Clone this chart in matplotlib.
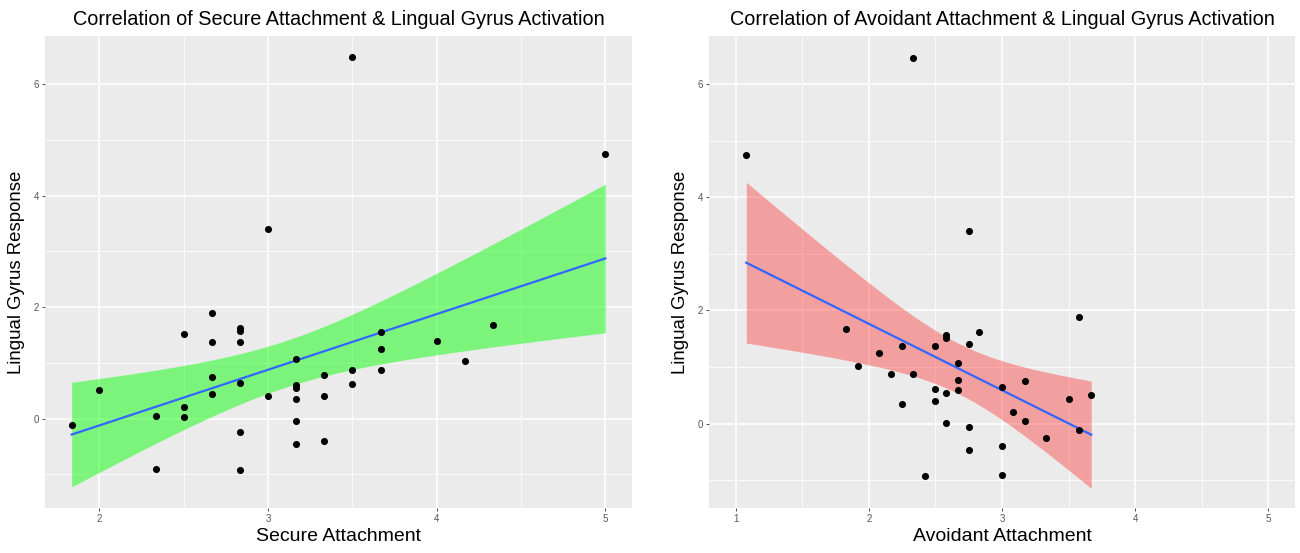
import numpy as np
import matplotlib
matplotlib.use("Agg")
import matplotlib.pyplot as plt

# Secure attachment panel
secure_x = [1.836, 2.0, 2.335, 2.335, 2.5, 2.5, 2.5, 2.667, 2.667, 2.667, 2.667,
            2.836, 2.836, 2.836, 2.836, 2.836, 2.836, 3.0, 3.0,
            3.168, 3.168, 3.168, 3.168, 3.168, 3.168, 3.335, 3.335, 3.335,
            3.5, 3.5, 3.5, 3.667, 3.667, 3.667, 4.0, 4.167, 4.333, 5.0]
secure_y = [-0.12, 0.51, 0.05, -0.91, 1.52, 0.21, 0.03, 1.89, 1.37, 0.75, 0.44,
            1.63, 1.57, 1.37, 0.64, -0.24, -0.92, 3.40, 0.41,
            1.07, 0.61, 0.55, 0.35, -0.04, -0.45, 0.78, 0.40, -0.40,
            6.48, 0.88, 0.62, 1.56, 1.24, 0.88, 1.40, 1.03, 1.68, 4.74]

# Avoidant attachment panel
avoid_x = [1.08, 1.83, 1.92, 2.08, 2.17, 2.25, 2.25, 2.33, 2.33, 2.42,
           2.5, 2.5, 2.5, 2.58, 2.58, 2.58, 2.58, 2.67, 2.67, 2.67,
           2.75, 2.75, 2.75, 2.75, 2.83, 3.0, 3.0, 3.0, 3.08, 3.17, 3.17,
           3.33, 3.5, 3.58, 3.58, 3.67]
avoid_y = [4.74, 1.68, 1.02, 1.24, 0.88, 1.38, 0.35, 6.47, 0.88, -0.92,
           1.38, 0.61, 0.40, 1.57, 1.52, 0.54, 0.02, 1.07, 0.77, 0.60,
           3.40, 1.40, -0.05, -0.46, 1.62, 0.64, -0.40, -0.91, 0.21, 0.75, 0.05,
           -0.25, 0.44, 1.88, -0.12, 0.50]

BG = "#EBEBEB"


def t_quantile(df, z=1.959964):
    # Cornish-Fisher approximation of the 97.5% t quantile
    return (z + (z**3 + z) / (4 * df)
            + (5 * z**5 + 16 * z**3 + 3 * z) / (96 * df**2)
            + (3 * z**7 + 19 * z**5 + 17 * z**3 - 15 * z) / (384 * df**3))


def lm_band(x, y, n_grid=80):
    x = np.asarray(x)
    y = np.asarray(y)
    n = len(x)
    b, a = np.polyfit(x, y, 1)
    resid = y - (a + b * x)
    s = np.sqrt(np.sum(resid**2) / (n - 2))
    xs = np.linspace(x.min(), x.max(), n_grid)
    fit = a + b * xs
    se = s * np.sqrt(1 / n + (xs - x.mean())**2 / np.sum((x - x.mean())**2))
    t = t_quantile(n - 2)
    return xs, fit, fit - t * se, fit + t * se


def panel(ax, x, y, fill, alpha, title, xlabel, xlim, ylim, xticks, xminor):
    ax.set_facecolor(BG)
    xs, fit, lo, hi = lm_band(x, y)
    ax.fill_between(xs, lo, hi, color=fill, alpha=alpha, linewidth=0, zorder=2)
    ax.plot(xs, fit, color="#3366FF", linewidth=1.6, zorder=3)
    ax.scatter(x, y, s=26, color="black", zorder=4, linewidths=0)
    ax.set_xlim(*xlim)
    ax.set_ylim(*ylim)
    ax.set_xticks(xticks)
    ax.set_xticks(xminor, minor=True)
    ax.set_yticks([0, 2, 4, 6])
    ax.set_yticks([-1, 1, 3, 5], minor=True)
    ax.grid(which="major", color="white", linewidth=1.1, zorder=0)
    ax.grid(which="minor", color="white", linewidth=0.55, zorder=0)
    ax.set_axisbelow(True)
    for sp in ax.spines.values():
        sp.set_visible(False)
    ax.tick_params(which="major", length=2.5, width=0.6, color="#333333",
                   labelsize=7, labelcolor="#555555", pad=2)
    ax.tick_params(which="minor", length=0)
    ax.set_title(title, fontsize=14.3, pad=8)
    ax.set_xlabel(xlabel, fontsize=14, labelpad=3)
    ax.set_ylabel("Lingual Gyrus Response", fontsize=13.4, labelpad=6)


plt.rcParams["font.family"] = ["Liberation Sans", "DejaVu Sans"]
fig = plt.figure(figsize=(13, 5.53), dpi=100)
ax1 = fig.add_axes([45 / 1300, 45 / 553, 587 / 1300, 472 / 553])
ax2 = fig.add_axes([709 / 1300, 45 / 553, 586 / 1300, 472 / 553])

panel(ax1, secure_x, secure_y, "#00FF00", 0.47,
      "Correlation of Secure Attachment & Lingual Gyrus Activation",
      "Secure Attachment", (1.678, 5.158), (-1.605, 6.865),
      [2, 3, 4, 5], [2.5, 3.5, 4.5])
panel(ax2, avoid_x, avoid_y, "#FF0000", 0.32,
      "Correlation of Avoidant Attachment & Lingual Gyrus Activation",
      "Avoidant Attachment", (0.8, 5.2), (-1.49, 6.85),
      [1, 2, 3, 4, 5], [1.5, 2.5, 3.5, 4.5])

fig.savefig("out.png", dpi=100, facecolor="white")
